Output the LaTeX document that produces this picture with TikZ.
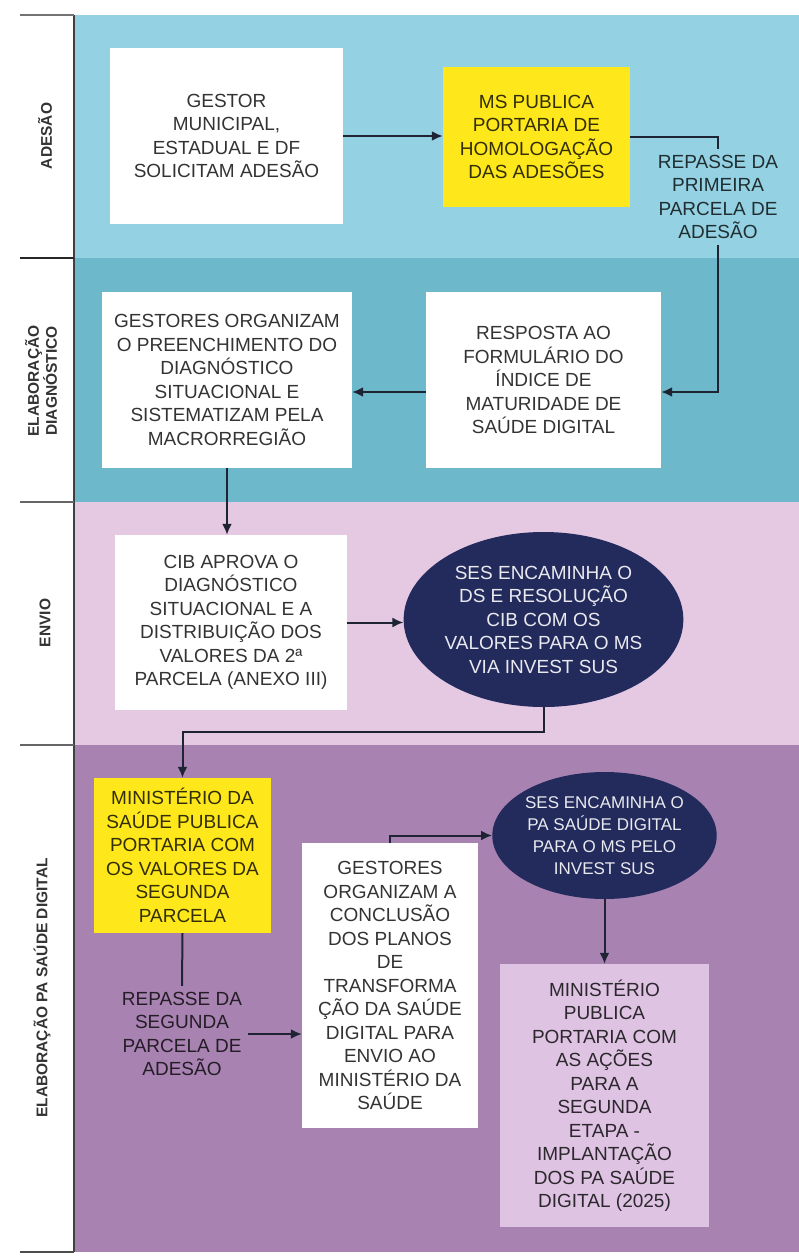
\documentclass[tikz,border=0pt]{standalone}
\usepackage{fontspec}
\setmainfont{Liberation Sans}
\usetikzlibrary{arrows.meta,shapes.geometric}

\definecolor{adesaoazul}{RGB}{148,209,226}
\definecolor{diagazul}{RGB}{110,184,203}
\definecolor{envioroxo}{RGB}{229,201,227}
\definecolor{paroxo}{RGB}{168,131,178}
\definecolor{amarelo}{RGB}{254,232,28}
\definecolor{lilas}{RGB}{222,195,227}
\definecolor{marinho}{RGB}{35,42,92}
\definecolor{linha}{RGB}{30,36,52}

\tikzset{
  caixa/.style={fill=white,text=black,text opacity=0.8,align=center,inner sep=0pt,
    font=\fontsize{19}{23.5}\selectfont},
  oval/.style={ellipse,fill=marinho,text=white,text opacity=0.9,align=center,inner sep=0pt,
    font=\fontsize{19}{23.5}\selectfont},
  rotulo/.style={text=black,text opacity=0.78,align=center,inner sep=6pt,
    font=\fontsize{19}{23.5}\selectfont},
  faixa/.style={rotate=90,text=black,text opacity=0.8,align=center,inner sep=0pt,
    font=\fontsize{15.5}{18}\selectfont\bfseries},
  liga/.style={draw=linha,line width=2pt},
  seta/.style={liga,-{Latex[length=11pt,width=10pt]}}
}

\begin{document}
\begin{tikzpicture}[x=1pt,y=-1pt]
    \useasboundingbox (0,0) rectangle (799,1256);
    \fill[adesaoazul] (75,15) rectangle (799,258);
    \fill[diagazul] (75,258) rectangle (799,502);
    \fill[envioroxo] (75,502) rectangle (799,745);
    \fill[paroxo] (75,745) rectangle (799,1252);

    \draw[line width=2.5pt,black!75] (74,15) -- (74,1252);
    \draw[line width=1.5pt,black!55] (20,15) -- (74,15);
    \draw[line width=2.5pt,black!85] (20,258) -- (74,258);
    \draw[line width=2pt,black!60] (20,502) -- (74,502);
    \draw[line width=2pt,black!60] (20,745) -- (74,745);
    \draw[line width=2pt,black!70] (20,1252) -- (74,1252);

    \node[faixa] (fadesao) at (45,136) {ADESÃO};
    \node[faixa] (fdiag) at (41,381) {ELABORAÇÃO\\DIAGNÓSTICO};
    \node[faixa] (fenvio) at (45,623) {ENVIO};
    \node[faixa] (fpa) at (42,988) {ELABORAÇÃO PA SAÚDE DIGITAL};

    \node[caixa,minimum width=233pt,minimum height=176pt] (gestor) at (226.5,136)
        {GESTOR\\MUNICIPAL,\\ESTADUAL E DF\\SOLICITAM ADESÃO};
    \node[caixa,fill=amarelo,minimum width=187pt,minimum height=140pt] (homolog) at (536.5,137)
        {MS PUBLICA\\PORTARIA DE\\HOMOLOGAÇÃO\\DAS ADESÕES};
    \node[rotulo] (repasse1) at (718,197) {REPASSE DA\\PRIMEIRA\\PARCELA DE\\ADESÃO};

    \node[caixa,minimum width=235pt,minimum height=176pt] (resposta) at (543.5,380)
        {RESPOSTA AO\\FORMULÁRIO DO\\ÍNDICE DE\\MATURIDADE DE\\SAÚDE DIGITAL};
    \node[caixa,minimum width=250pt,minimum height=176pt] (preench) at (227,380)
        {GESTORES ORGANIZAM\\O PREENCHIMENTO DO\\DIAGNÓSTICO\\SITUACIONAL E\\SISTEMATIZAM PELA\\MACRORREGIÃO};

    \node[caixa,minimum width=232pt,minimum height=175pt] (cib) at (231,622.5)
        {CIB APROVA O\\DIAGNÓSTICO\\SITUACIONAL E A\\DISTRIBUIÇÃO DOS\\VALORES DA 2ª\\PARCELA (ANEXO III)};
    \node[oval,minimum width=269pt,minimum height=175pt] (sesds) at (543.5,619.5)
        {SES ENCAMINHA O\\DS E RESOLUÇÃO\\CIB COM OS\\VALORES PARA O MS\\VIA INVEST SUS};

    \node[caixa,fill=amarelo,minimum width=177pt,minimum height=155pt] (portaria2) at (182.5,855.5)
        {MINISTÉRIO DA\\SAÚDE PUBLICA\\PORTARIA COM\\OS VALORES DA\\SEGUNDA\\PARCELA};
    \node[rotulo] (repasse2) at (182,1034) {REPASSE DA\\SEGUNDA\\PARCELA DE\\ADESÃO};
    \node[caixa,minimum width=176pt,minimum height=285pt] (planos) at (390,985.5)
        {GESTORES\\ORGANIZAM A\\CONCLUSÃO\\DOS PLANOS\\DE\\TRANSFORMA\\ÇÃO DA SAÚDE\\DIGITAL PARA\\ENVIO AO\\MINISTÉRIO DA\\SAÚDE};
    \node[oval,minimum width=199pt,minimum height=127pt,font=\fontsize{17}{22}\selectfont] (sespa) at (604.5,835.5)
        {SES ENCAMINHA O\\PA SAÚDE DIGITAL\\PARA O MS PELO\\INVEST SUS};
    \node[caixa,fill=lilas,minimum width=209pt,minimum height=263pt] (acoes) at (604.5,1095.5)
        {MINISTÉRIO\\PUBLICA\\PORTARIA COM\\AS AÇÕES\\PARA A\\SEGUNDA\\ETAPA -\\IMPLANTAÇÃO\\DOS PA SAÚDE\\DIGITAL (2025)};

    \draw[seta] (gestor.east) -- (gestor.east -| homolog.west);
    \draw[liga] (homolog.east) -| (repasse1.north);
    \draw[seta] (repasse1.south) |- ([yshift=-12pt]resposta.east);
    \draw[seta] ([yshift=-12pt]resposta.west) -- ([yshift=-12pt]resposta.west -| preench.east);
    \draw[seta] (preench.south) -- (preench.south |- cib.north);
    \draw[seta] (cib.east) -- (cib.east -| sesds.west);
    \draw[seta] (sesds.south) -- ++(0,25) -| (portaria2.north);
    \draw[liga] (portaria2.south) -- (repasse2.north);
    \draw[seta] (repasse2.east) -- (repasse2.east -| planos.west);
    \draw[seta] (planos.north) |- (sespa.west);
    \draw[seta] (sespa.south) -- (acoes.north);
\end{tikzpicture}
\end{document}
